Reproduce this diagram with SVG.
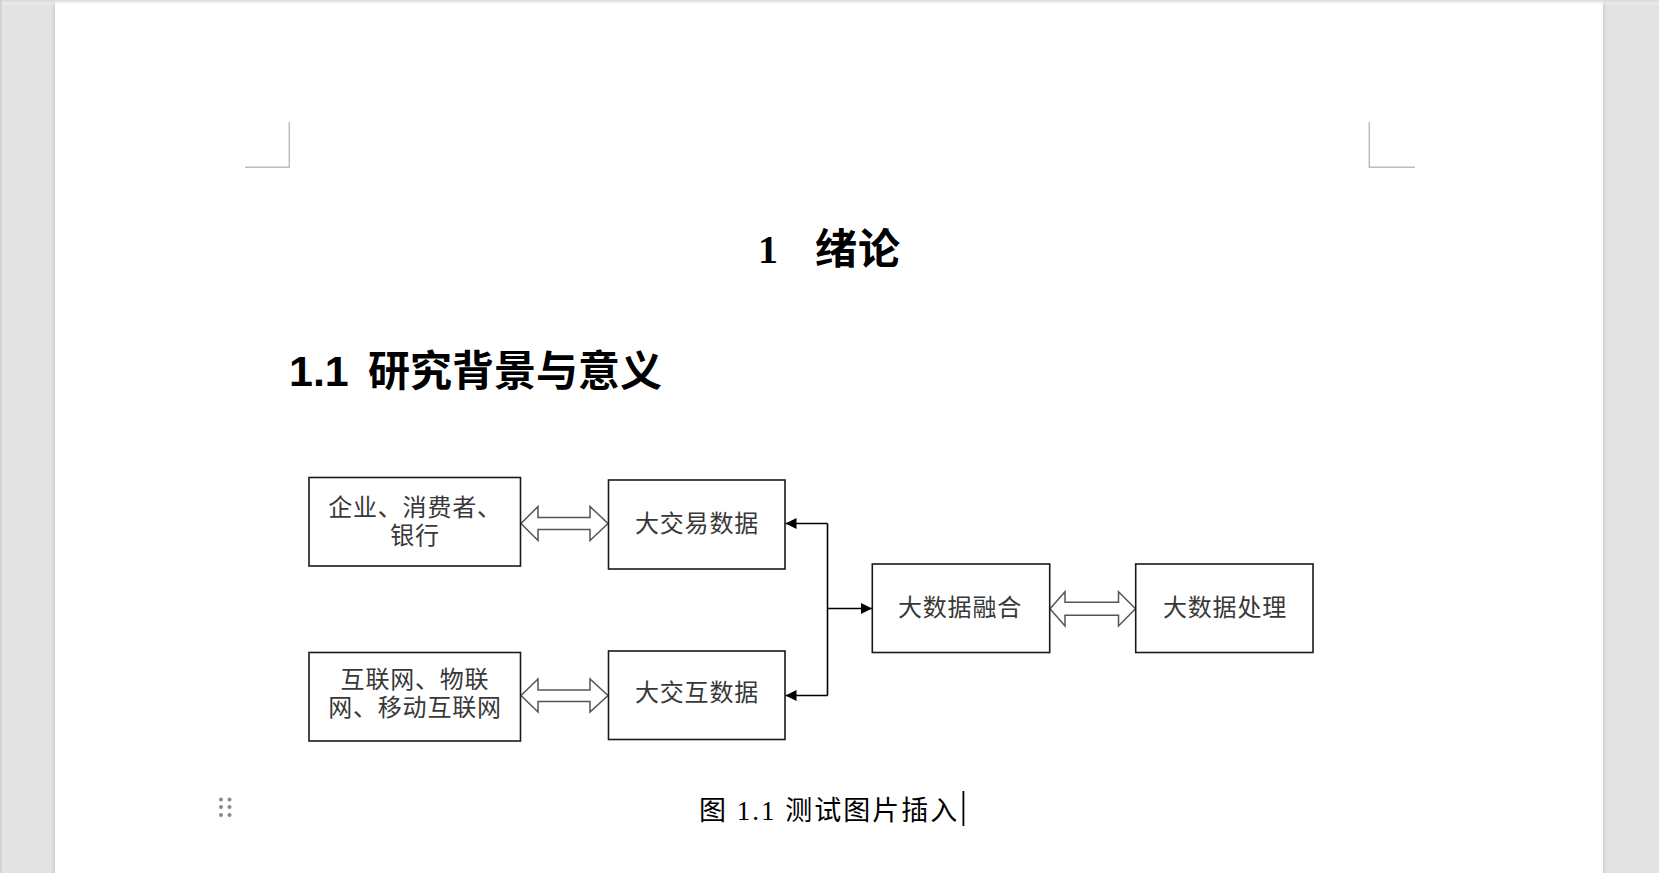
<svg xmlns="http://www.w3.org/2000/svg" width="1659" height="873" viewBox="0 0 1659 873">
<defs>
<linearGradient id="topShade" x1="0" y1="0" x2="0" y2="1">
<stop offset="0" stop-color="#d8d8d8"/>
<stop offset="1" stop-color="#ffffff" stop-opacity="0"/>
</linearGradient>
<linearGradient id="leftShade" x1="0" y1="0" x2="1" y2="0">
<stop offset="0" stop-color="#e3e3e3" stop-opacity="0"/>
<stop offset="1" stop-color="#cfcfcf"/>
</linearGradient>
<linearGradient id="rightShade" x1="0" y1="0" x2="1" y2="0">
<stop offset="0" stop-color="#cfcfcf"/>
<stop offset="1" stop-color="#e3e3e3" stop-opacity="0"/>
</linearGradient>
<marker id="arrowHead" viewBox="0 0 10 10" refX="10" refY="5" markerWidth="13.5" markerHeight="11" markerUnits="userSpaceOnUse" orient="auto">
<path d="M0,0 L10,5 L0,10 Z" fill="#000"/>
</marker>
</defs>
<style>
.box{fill:#fff;stroke:#1a1a1a;stroke-width:1.6}
.lbl{font-family:"Noto Sans CJK SC","Liberation Serif",sans-serif;font-size:24px;fill:#383838;text-anchor:middle;letter-spacing:0.8px}
.dbl{fill:#fff;stroke:#555;stroke-width:1.5;stroke-linejoin:miter}
.conn{fill:none;stroke:#000;stroke-width:1.6}
.crop{fill:none;stroke:#bdbdbd;stroke-width:1.5}
</style>
<rect x="0" y="0" width="1659" height="873" fill="#e3e3e3"/>
<rect x="55" y="0" width="1548" height="873" fill="#ffffff"/>
<rect x="49" y="0" width="6" height="873" fill="url(#leftShade)"/>
<rect x="1603" y="0" width="6" height="873" fill="url(#rightShade)"/>
<rect x="0" y="0" width="1659" height="6" fill="url(#topShade)"/>
<rect x="0" y="0" width="1.5" height="873" fill="#cfcfcf"/>
<g id="cropmarks">
<path class="crop" d="M289.3,122 V167.3 H245"/>
<path class="crop" d="M1369.3,122 V167.3 H1415"/>
</g>
<g id="title">
<text x="758" y="263" font-family="Liberation Serif,serif" font-weight="bold" font-size="40" fill="#000">1</text>
<text x="815" y="264" font-family="Noto Sans CJK SC,sans-serif" font-weight="bold" font-size="42" letter-spacing="1" fill="#000">绪论</text>
</g>
<g id="heading">
<text x="289" y="386" font-family="Liberation Sans,Arial,sans-serif" font-weight="bold" font-size="43" fill="#000">1.1</text>
<text x="368" y="386" font-family="Noto Sans CJK SC,sans-serif" font-weight="bold" font-size="42" fill="#000">研究背景与意义</text>
</g>
<g id="connectors">
<path class="dbl" d="M521,523.5 L538,506.5 L538,517.5 L590,517.5 L590,506.5 L608,523.5 L590,540.5 L590,529.5 L538,529.5 L538,540.5 Z"/>
<path class="dbl" d="M521,695.5 L538,679 L538,690 L590,690 L590,679 L608,695.5 L590,712 L590,701.5 L538,701.5 L538,712 Z"/>
<path class="dbl" d="M1050,608.8 L1065,591.8 L1065,602.3 L1118.5,602.3 L1118.5,591.8 L1135.5,608.8 L1118.5,626 L1118.5,615.3 L1065,615.3 L1065,626 Z"/>
<path class="conn" d="M827.5,523.5 V695.5"/>
<path class="conn" d="M827.5,523.5 H785.5" marker-end="url(#arrowHead)"/>
<path class="conn" d="M827.5,695.5 H785.5" marker-end="url(#arrowHead)"/>
<path class="conn" d="M827.5,608.5 H872" marker-end="url(#arrowHead)"/>
</g>
<g id="node-sources1">
<rect class="box" x="309" y="477.5" width="211.5" height="88.5"/>
<text class="lbl" x="415" y="516"><tspan x="415">企业、消费者、</tspan><tspan x="415" dy="27.5">银行</tspan></text>
</g>
<g id="node-trade">
<rect class="box" x="608.5" y="480" width="176.5" height="89"/>
<text class="lbl" x="697" y="532">大交易数据</text>
</g>
<g id="node-sources2">
<rect class="box" x="309" y="652.5" width="211.5" height="88.5"/>
<text class="lbl" x="415" y="688"><tspan x="415">互联网、物联</tspan><tspan x="415" dy="28">网、移动互联网</tspan></text>
</g>
<g id="node-interact">
<rect class="box" x="608.5" y="651" width="176.5" height="88.5"/>
<text class="lbl" x="697" y="701">大交互数据</text>
</g>
<g id="node-fusion">
<rect class="box" x="872.3" y="564" width="177.4" height="88.5"/>
<text class="lbl" x="960" y="616">大数据融合</text>
</g>
<g id="node-process">
<rect class="box" x="1135.7" y="564" width="177.3" height="88.5"/>
<text class="lbl" x="1225" y="616">大数据处理</text>
</g>
<g id="caption">
<g fill="#8a8a8a">
<circle cx="221" cy="799.5" r="2"/><circle cx="229.5" cy="799.5" r="2"/>
<circle cx="221" cy="807" r="2"/><circle cx="229.5" cy="807" r="2"/>
<circle cx="221" cy="815" r="2"/><circle cx="229.5" cy="815" r="2"/>
</g>
<text x="699" y="820" font-family="Liberation Serif,Noto Sans CJK SC,serif" font-size="27" letter-spacing="2" fill="#000">图 1.1 测试图片插入</text>
<rect x="962.5" y="791" width="1.8" height="35" fill="#000"/>
</g>
</svg>
